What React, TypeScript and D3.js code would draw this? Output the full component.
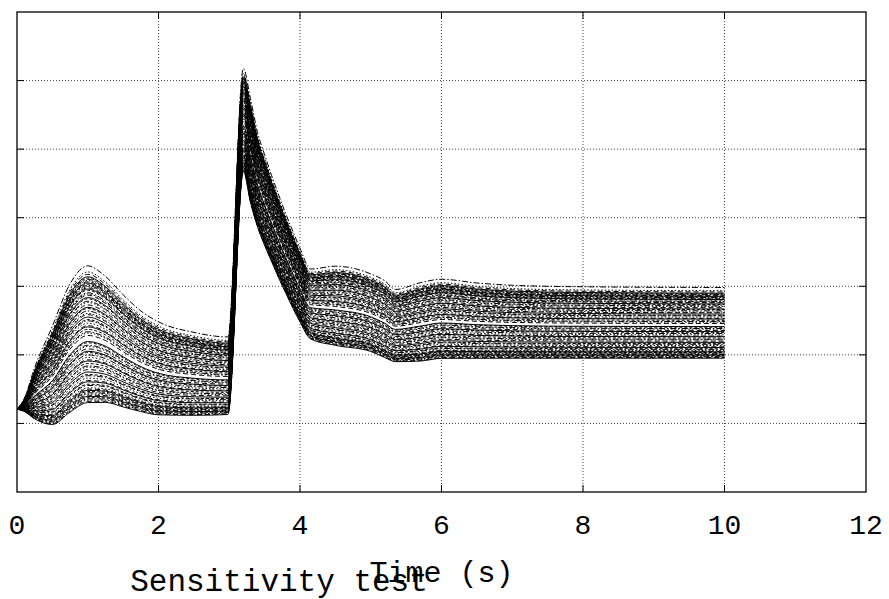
import React from "react";
import * as d3 from "d3";

// Time samples (s)
const times = [0, 0.1, 0.25, 0.5, 0.75, 1.0, 1.25, 1.5, 1.75, 2.0, 2.5, 2.98, 3.2, 3.3, 3.4, 3.5, 3.6, 3.7, 3.8, 3.9, 4.0, 4.15, 4.5, 5.0, 5.2, 5.35, 5.7, 6.0, 6.5, 7.0, 8.0, 10.0];
// Lower envelope of the ensemble
const lowCurve = [1.21, 1.18, 1.08, 1.01, 1.2, 1.34, 1.34, 1.27, 1.2, 1.15, 1.14, 1.15, 4.7, 4.25, 3.89, 3.62, 3.38, 3.14, 2.92, 2.7, 2.5, 2.25, 2.16, 2.07, 1.98, 1.92, 1.93, 1.97, 1.97, 1.97, 1.97, 1.97];
// Upper envelope of the ensemble
const highCurve = [1.21, 1.34, 1.75, 2.29, 2.87, 3.12, 2.98, 2.73, 2.51, 2.36, 2.22, 2.16, 6.04, 5.6, 5.12, 4.8, 4.5, 4.22, 3.95, 3.7, 3.46, 3.16, 3.19, 3.08, 2.98, 2.86, 2.95, 3.0, 2.95, 2.92, 2.9, 2.89];
// Position of each sensitivity run between the envelopes
const runWeights = [-0.02, -0.01, 0.0, 0.01, 0.02, 0.03, 0.04, 0.05, 0.06, 0.07, 0.08, 0.09, 0.1, 0.12, 0.13, 0.15, 0.16, 0.18, 0.2, 0.21, 0.23, 0.25, 0.27, 0.28, 0.3, 0.32, 0.33, 0.35, 0.37, 0.39, 0.4, 0.42, 0.44, 0.45, 0.47, 0.48, 0.53, 0.55, 0.56, 0.58, 0.6, 0.61, 0.63, 0.65, 0.66, 0.68, 0.7, 0.71, 0.73, 0.75, 0.76, 0.78, 0.8, 0.81, 0.83, 0.84, 0.86, 0.87, 0.88, 0.9, 0.91, 0.92, 0.93, 0.94, 0.95, 0.96, 0.97, 0.98, 0.99, 1.0, 1.01, 1.03, 1.05, 1.1];
const xTicks = [0, 2, 4, 6, 8, 10, 12];
const yTicks = [0, 1, 2, 3, 4, 5, 6, 7];
const dashStyles = ["none", "5,3", "1.5,2", "6,2,1.5,2", "3,2"];

const W = 889, H = 599;
const L = 17, R = 866, T = 12, B = 492;

export default function App() {
  const x = d3.scaleLinear().domain([0, 12]).range([L, R]);
  const y = d3.scaleLinear().domain([0, 7]).range([B, T]);
  const line = d3.line<[number, number]>().x(d => x(d[0])).y(d => y(d[1])).curve(d3.curveMonotoneX);
  const font = "'Liberation Mono', 'Courier New', monospace";
  return (
    <svg width={W} height={H} style={{ position: "absolute", left: 0, top: 0, background: "#fff" }}>
      <defs>
        <clipPath id="clip"><rect x={L} y={T} width={R - L} height={B - T} /></clipPath>
      </defs>
      {xTicks.slice(1, -1).map(t => (
        <line key={"gx" + t} x1={x(t)} x2={x(t)} y1={T} y2={B} stroke="#444" strokeWidth={1} strokeDasharray="1,2" />
      ))}
      {yTicks.slice(1, -1).map(t => (
        <line key={"gy" + t} x1={L} x2={R} y1={y(t)} y2={y(t)} stroke="#444" strokeWidth={1} strokeDasharray="1,2" />
      ))}
      <g clipPath="url(#clip)">
        {runWeights.map((w, i) => {
          const pts: [number, number][] = times.map((t, j) => [t, lowCurve[j] + w * (highCurve[j] - lowCurve[j])]);
          const ds = dashStyles[i % dashStyles.length];
          return <path key={i} d={line(pts) || ""} fill="none" stroke="#000" strokeWidth={1} strokeDasharray={ds === "none" ? undefined : ds} />;
        })}
      </g>
      <rect x={L} y={T} width={R - L} height={B - T} fill="none" stroke="#000" strokeWidth={1.3} />
      {xTicks.slice(1, -1).map(t => (
        <g key={"tx" + t}>
          <line x1={x(t)} x2={x(t)} y1={B} y2={B - 7} stroke="#000" />
          <line x1={x(t)} x2={x(t)} y1={T} y2={T + 7} stroke="#000" />
        </g>
      ))}
      {yTicks.slice(1, -1).map(t => (
        <g key={"ty" + t}>
          <line x1={L} x2={L + 7} y1={y(t)} y2={y(t)} stroke="#000" />
          <line x1={R} x2={R - 7} y1={y(t)} y2={y(t)} stroke="#000" />
        </g>
      ))}
      {xTicks.map(t => (
        <text key={"lx" + t} x={x(t)} y={534} textAnchor="middle" fontFamily={font} fontSize={28} fill="#000">{t}</text>
      ))}
      <text x={(L + R) / 2} y={582} textAnchor="middle" fontFamily={font} fontSize={30} fill="#000">Time (s)</text>
      <text x={279} y={591} textAnchor="middle" fontFamily={font} fontSize={31} fill="#000">Sensitivity test</text>
    </svg>
  );
}
